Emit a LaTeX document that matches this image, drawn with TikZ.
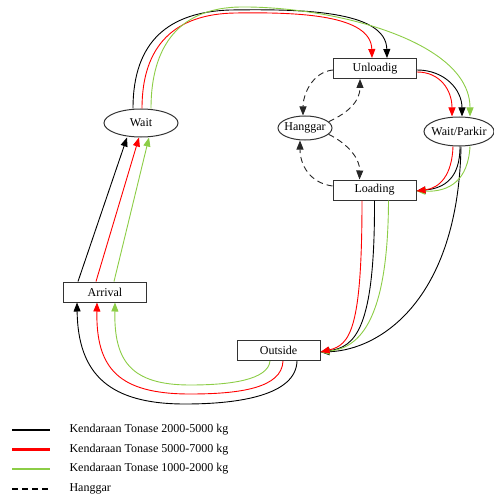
\documentclass[tikz,border=0pt]{standalone}
\usepackage{fontspec}
\setmainfont{Liberation Serif}
\usetikzlibrary{shapes.geometric,arrows.meta}
\definecolor{lgreen}{RGB}{140,205,70}
\newcommand{\midtext}[1]{\makebox[0pt]{#1}}

\begin{document}
\begin{tikzpicture}[x=1pt,y=-1pt, every node/.style={font=\fontsize{12}{14}\selectfont}]
		\tikzstyle{state}=[rectangle,draw=black!80,line width=1pt,minimum width=83pt,minimum height=20pt,inner sep=0pt]
		\tikzstyle{queue}=[ellipse,draw=black!80,line width=1pt,inner sep=0pt]
		\tikzstyle{flow}=[line width=0.9pt,-{Triangle[length=9pt,width=7pt]}]
		\tikzstyle{hang}=[flow,black!85,dash pattern=on 6pt off 4pt]
		\useasboundingbox (0,0) rectangle (493,500);
		\node[state](unload)at(375,68.5){Unloadig};
		\node[state](load)at(374.5,190){Loading};
		\node[state](arrival)at(105,292){Arrival};
		\node[state](outside)at(278.5,350.5){Outside};
		\node[queue,minimum width=74pt,minimum height=28pt](wait)at(141,123){\midtext{Wait}};
		\node[queue,minimum width=70pt,minimum height=29pt](parkir)at(459,131.5){\midtext{Wait/Parkir}};
		\node[queue,minimum width=54pt,minimum height=24pt](hanggar)at(305,128){\midtext{Hanggar}};
		% arrival -> wait
		\draw[flow] ([xshift=-27pt]arrival.north) -- ([xshift=-14pt]wait.south);
		\draw[flow,red] ([xshift=-9pt]arrival.north) -- ([xshift=-2pt]wait.south);
		\draw[flow,lgreen] ([xshift=9pt]arrival.north) -- ([xshift=8pt]wait.south);
		% wait -> unloadig / parkir
		\draw[flow] ([xshift=-8pt]wait.north) .. controls (133,40) and (170,12) .. (230,10)
			.. controls (300,9) and (386,10) .. ([xshift=12pt]unload.north);
		\draw[flow,red] ([xshift=1pt]wait.north) .. controls (142,45) and (175,14) .. (235,13)
			.. controls (300,12) and (371,15) .. ([xshift=-3pt]unload.north);
		\draw[flow,lgreen] ([xshift=10pt]wait.north) .. controls (151,45) and (180,8) .. (240,7)
			.. controls (330,6) and (470,40) .. ([xshift=11pt]parkir.north);
		% unloadig -> parkir
		\draw[flow] ([yshift=-1.5pt]unload.east) .. controls (445,70) and (462,90) .. ([xshift=3pt]parkir.north);
		\draw[flow,red] ([yshift=-3.5pt]unload.east) .. controls (440,72) and (452,90) .. ([xshift=-7pt]parkir.north);
		% parkir -> loading / outside
		\draw[flow] ([xshift=1pt]parkir.south) .. controls (460,178) and (445,188) .. ([yshift=-1pt]load.east);
		\draw[flow] ([xshift=2pt]parkir.south) .. controls (458,300) and (380,350) .. ([yshift=-1.5pt]outside.east);
		\draw[flow,lgreen] ([xshift=11pt]parkir.south) .. controls (468,180) and (450,192) .. ([yshift=-1pt]load.east);
		\draw[flow,red] ([xshift=-6pt]parkir.south) .. controls (452,175) and (440,188) .. ([yshift=-1pt]load.east);
		% loading -> outside
		\draw[flow] (load.south) .. controls (375,330) and (355,347) .. ([yshift=-1.5pt]outside.east);
		\draw[flow,lgreen] ([xshift=14pt]load.south) .. controls (388,320) and (360,348) .. ([yshift=-1.5pt]outside.east);
		\draw[flow,red] ([xshift=-12.5pt]load.south) .. controls (362,330) and (350,345) .. ([yshift=-1.5pt]outside.east);
		% outside -> arrival
		\draw[flow,lgreen] ([xshift=-8.5pt]outside.south) .. controls (268,380) and (230,385) .. (190,385)
			.. controls (130,385) and (114,360) .. ([xshift=10pt]arrival.south);
		\draw[flow,red] ([xshift=4.5pt]outside.south) .. controls (282,388) and (240,394) .. (190,394)
			.. controls (118,394) and (96,368) .. ([xshift=-8pt]arrival.south);
		\draw[flow] ([xshift=18.5pt]outside.south) .. controls (296,395) and (240,404) .. (185,404)
			.. controls (110,404) and (78,375) .. ([xshift=-28pt]arrival.south);
		% hanggar
		\draw[hang] ([yshift=-1.5pt]unload.west) .. controls (312,72) and (303,95) .. ([xshift=-2pt]hanggar.north);
		\draw[hang] (hanggar.15) .. controls (350,112) and (360,100) .. ([xshift=-15pt]unload.south);
		\draw[hang] (hanggar.-15) .. controls (350,145) and (360,160) .. ([xshift=-15pt]load.north);
		\draw[hang] ([yshift=4pt]load.west) .. controls (310,183) and (300,165) .. ([xshift=-5pt]hanggar.south);
		% legend
		\node[anchor=west](leg1)at(66,430){Kendaraan Tonase 2000-5000 kg};
		\node[anchor=west](leg2)at(66,449.5){Kendaraan Tonase 5000-7000 kg};
		\node[anchor=west](leg3)at(66,469){Kendaraan Tonase 1000-2000 kg};
		\node[anchor=west](leg4)at(66,489){Hanggar};
		\draw[line width=2.5pt] ([xshift=-54pt]leg1.west) -- ([xshift=-16pt]leg1.west);
		\draw[line width=2.5pt,red] ([xshift=-54pt]leg2.west) -- ([xshift=-16pt]leg2.west);
		\draw[line width=2.5pt,lgreen] ([xshift=-54pt]leg3.west) -- ([xshift=-16pt]leg3.west);
		\draw[line width=2.5pt,dash pattern=on 6pt off 4pt] ([xshift=-54pt]leg4.west) -- ([xshift=-16pt]leg4.west);
		\end{tikzpicture}
\end{document}
